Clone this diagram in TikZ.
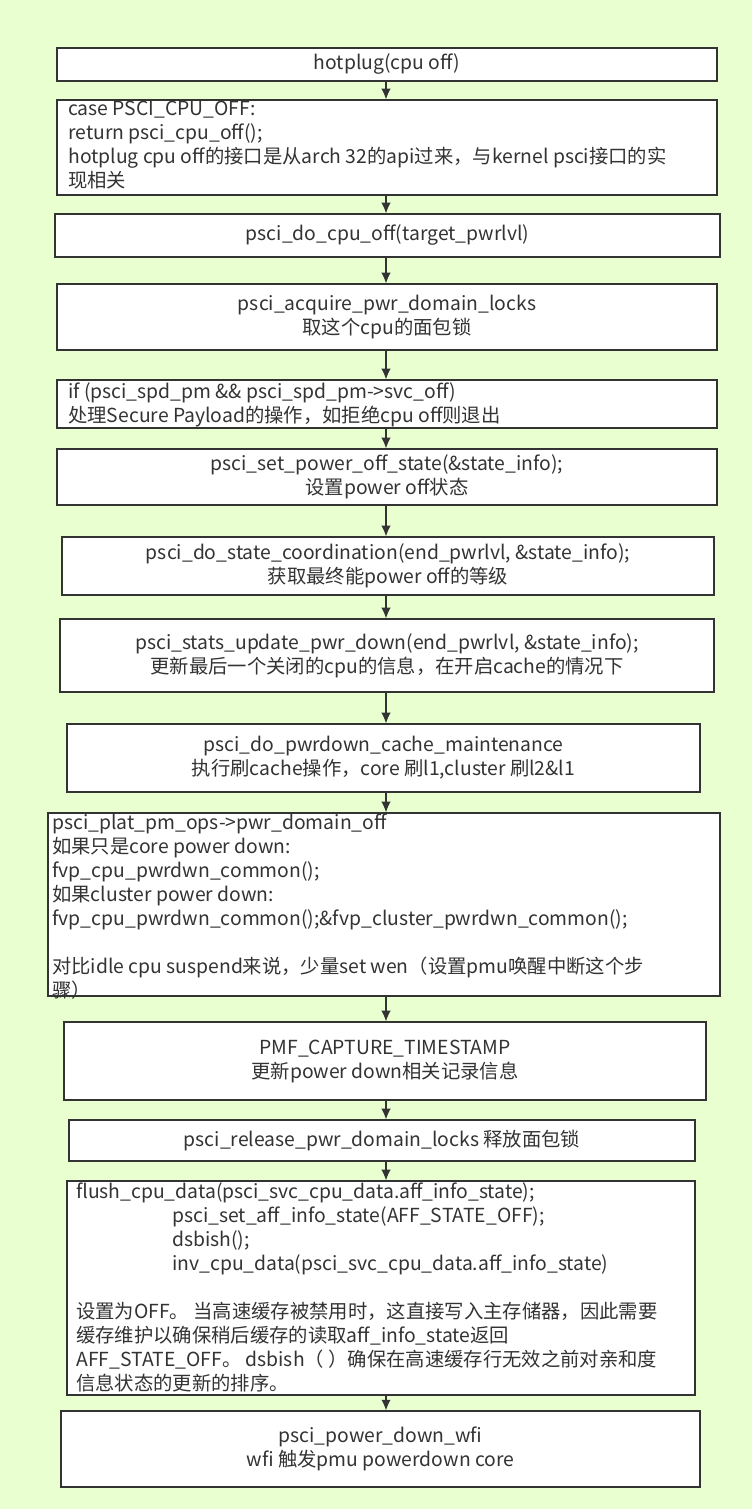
\documentclass[tikz,border=0pt]{standalone}
\usepackage{fontspec}
\setmainfont{Noto Sans CJK SC}
\usetikzlibrary{arrows.meta}
\definecolor{bg}{HTML}{EAFFD0}
\definecolor{ln}{HTML}{333333}
\tikzset{
 box/.style={draw=ln,line width=0.9pt,fill=white,inner sep=0pt},
 txt/.style={font=\fontsize{14.5pt}{18pt}\selectfont,text=ln,inner sep=0pt},
 lt/.style={txt,anchor=north west,align=left},
 ct/.style={txt,align=center},
 arr/.style={draw=ln,line width=0.9pt,-{Latex[length=8pt,width=7pt]}}
}
\newcommand{\bx}[5]{\node[box,minimum width={(#3-#1)*0.75pt},minimum height={(#4-#2)*0.75pt}] (#5) at ({(#1+#3)/2},{(#2+#4)/2}) {};}
\begin{document}
\begin{tikzpicture}[x=0.75pt,y=-0.75pt]
\fill[bg] (0,0) rectangle (752,1509);
\useasboundingbox (0,0) rectangle (752,1509);
\bx{57}{48}{717}{81}{b1}
\bx{57}{100}{717}{195}{b2}
\bx{55}{214}{720}{257}{b3}
\bx{57}{284}{717}{350}{b4}
\bx{57}{380}{717}{428}{b5}
\bx{57}{449}{717}{505}{b6}
\bx{62}{537}{714}{595}{b7}
\bx{60}{619}{714}{692}{b8}
\bx{67}{724}{700}{792}{b9}
\bx{48}{813}{720}{996}{b10}
\bx{64}{1022}{706}{1100}{b11}
\bx{69}{1120}{695}{1161}{b12}
\bx{67}{1181}{695}{1395}{b13}
\bx{61}{1411}{700}{1487}{b14}
\node[ct] at (b1) {hotplug(cpu off)};
\node[lt] at (68,101) {case PSCI\_CPU\_OFF:\\return psci\_cpu\_off();\\hotplug cpu off的接口是从arch 32的api过来，与kernel psci接口的实\\现相关};
\node[ct] at (b3) {psci\_do\_cpu\_off(target\_pwrlvl)};
\node[ct] at (b4) {psci\_acquire\_pwr\_domain\_locks\\取这个cpu的面包锁};
\node[lt] at (68,382) {if (psci\_spd\_pm \&\& psci\_spd\_pm->svc\_off)\\处理Secure Payload的操作，如拒绝cpu off则退出};
\node[ct] at (b6) {psci\_set\_power\_off\_state(\&state\_info);\\设置power off状态};
\node[ct] at (b7) {psci\_do\_state\_coordination(end\_pwrlvl, \&state\_info);\\获取最终能power off的等级};
\node[ct] at (b8) {psci\_stats\_update\_pwr\_down(end\_pwrlvl, \&state\_info);\\更新最后一个关闭的cpu的信息，在开启cache的情况下};
\node[ct] at (b9) {psci\_do\_pwrdown\_cache\_maintenance\\执行刷cache操作，core 刷l1,cluster 刷l2\&l1};
\node[lt] at (52,814) {psci\_plat\_pm\_ops->pwr\_domain\_off\\如果只是core power down:\\fvp\_cpu\_pwrdwn\_common();\\如果cluster power down:\\fvp\_cpu\_pwrdwn\_common();\&fvp\_cluster\_pwrdwn\_common();\\[18pt]对比idle cpu suspend来说，少量set wen（设置pmu唤醒中断这个步\\骤）};
\node[ct] at (b11) {PMF\_CAPTURE\_TIMESTAMP\\更新power down相关记录信息};
\node[ct] at (b12) {psci\_release\_pwr\_domain\_locks 释放面包锁};
\node[lt] at (76,1182) {flush\_cpu\_data(psci\_svc\_cpu\_data.aff\_info\_state);\\\hspace*{72pt}psci\_set\_aff\_info\_state(AFF\_STATE\_OFF);\\\hspace*{72pt}dsbish();\\\hspace*{72pt}inv\_cpu\_data(psci\_svc\_cpu\_data.aff\_info\_state)\\[18pt]设置为OFF。 当高速缓存被禁用时，这直接写入主存储器，因此需要\\缓存维护以确保稍后缓存的读取aff\_info\_state返回\\AFF\_STATE\_OFF。 dsbish（ ）确保在高速缓存行无效之前对亲和度\\信息状态的更新的排序。};
\node[ct] at (b14) {psci\_power\_down\_wfi\\wfi 触发pmu powerdown core};
\foreach \a/\b in {b1/b2,b2/b3,b3/b4,b4/b5,b5/b6,b6/b7,b7/b8,b8/b9,b9/b10,b10/b11,b11/b12,b12/b13,b13/b14}
  \draw[arr] (\a.south -| 386,0) -- (\b.north -| 386,0);
\end{tikzpicture}
\end{document}
